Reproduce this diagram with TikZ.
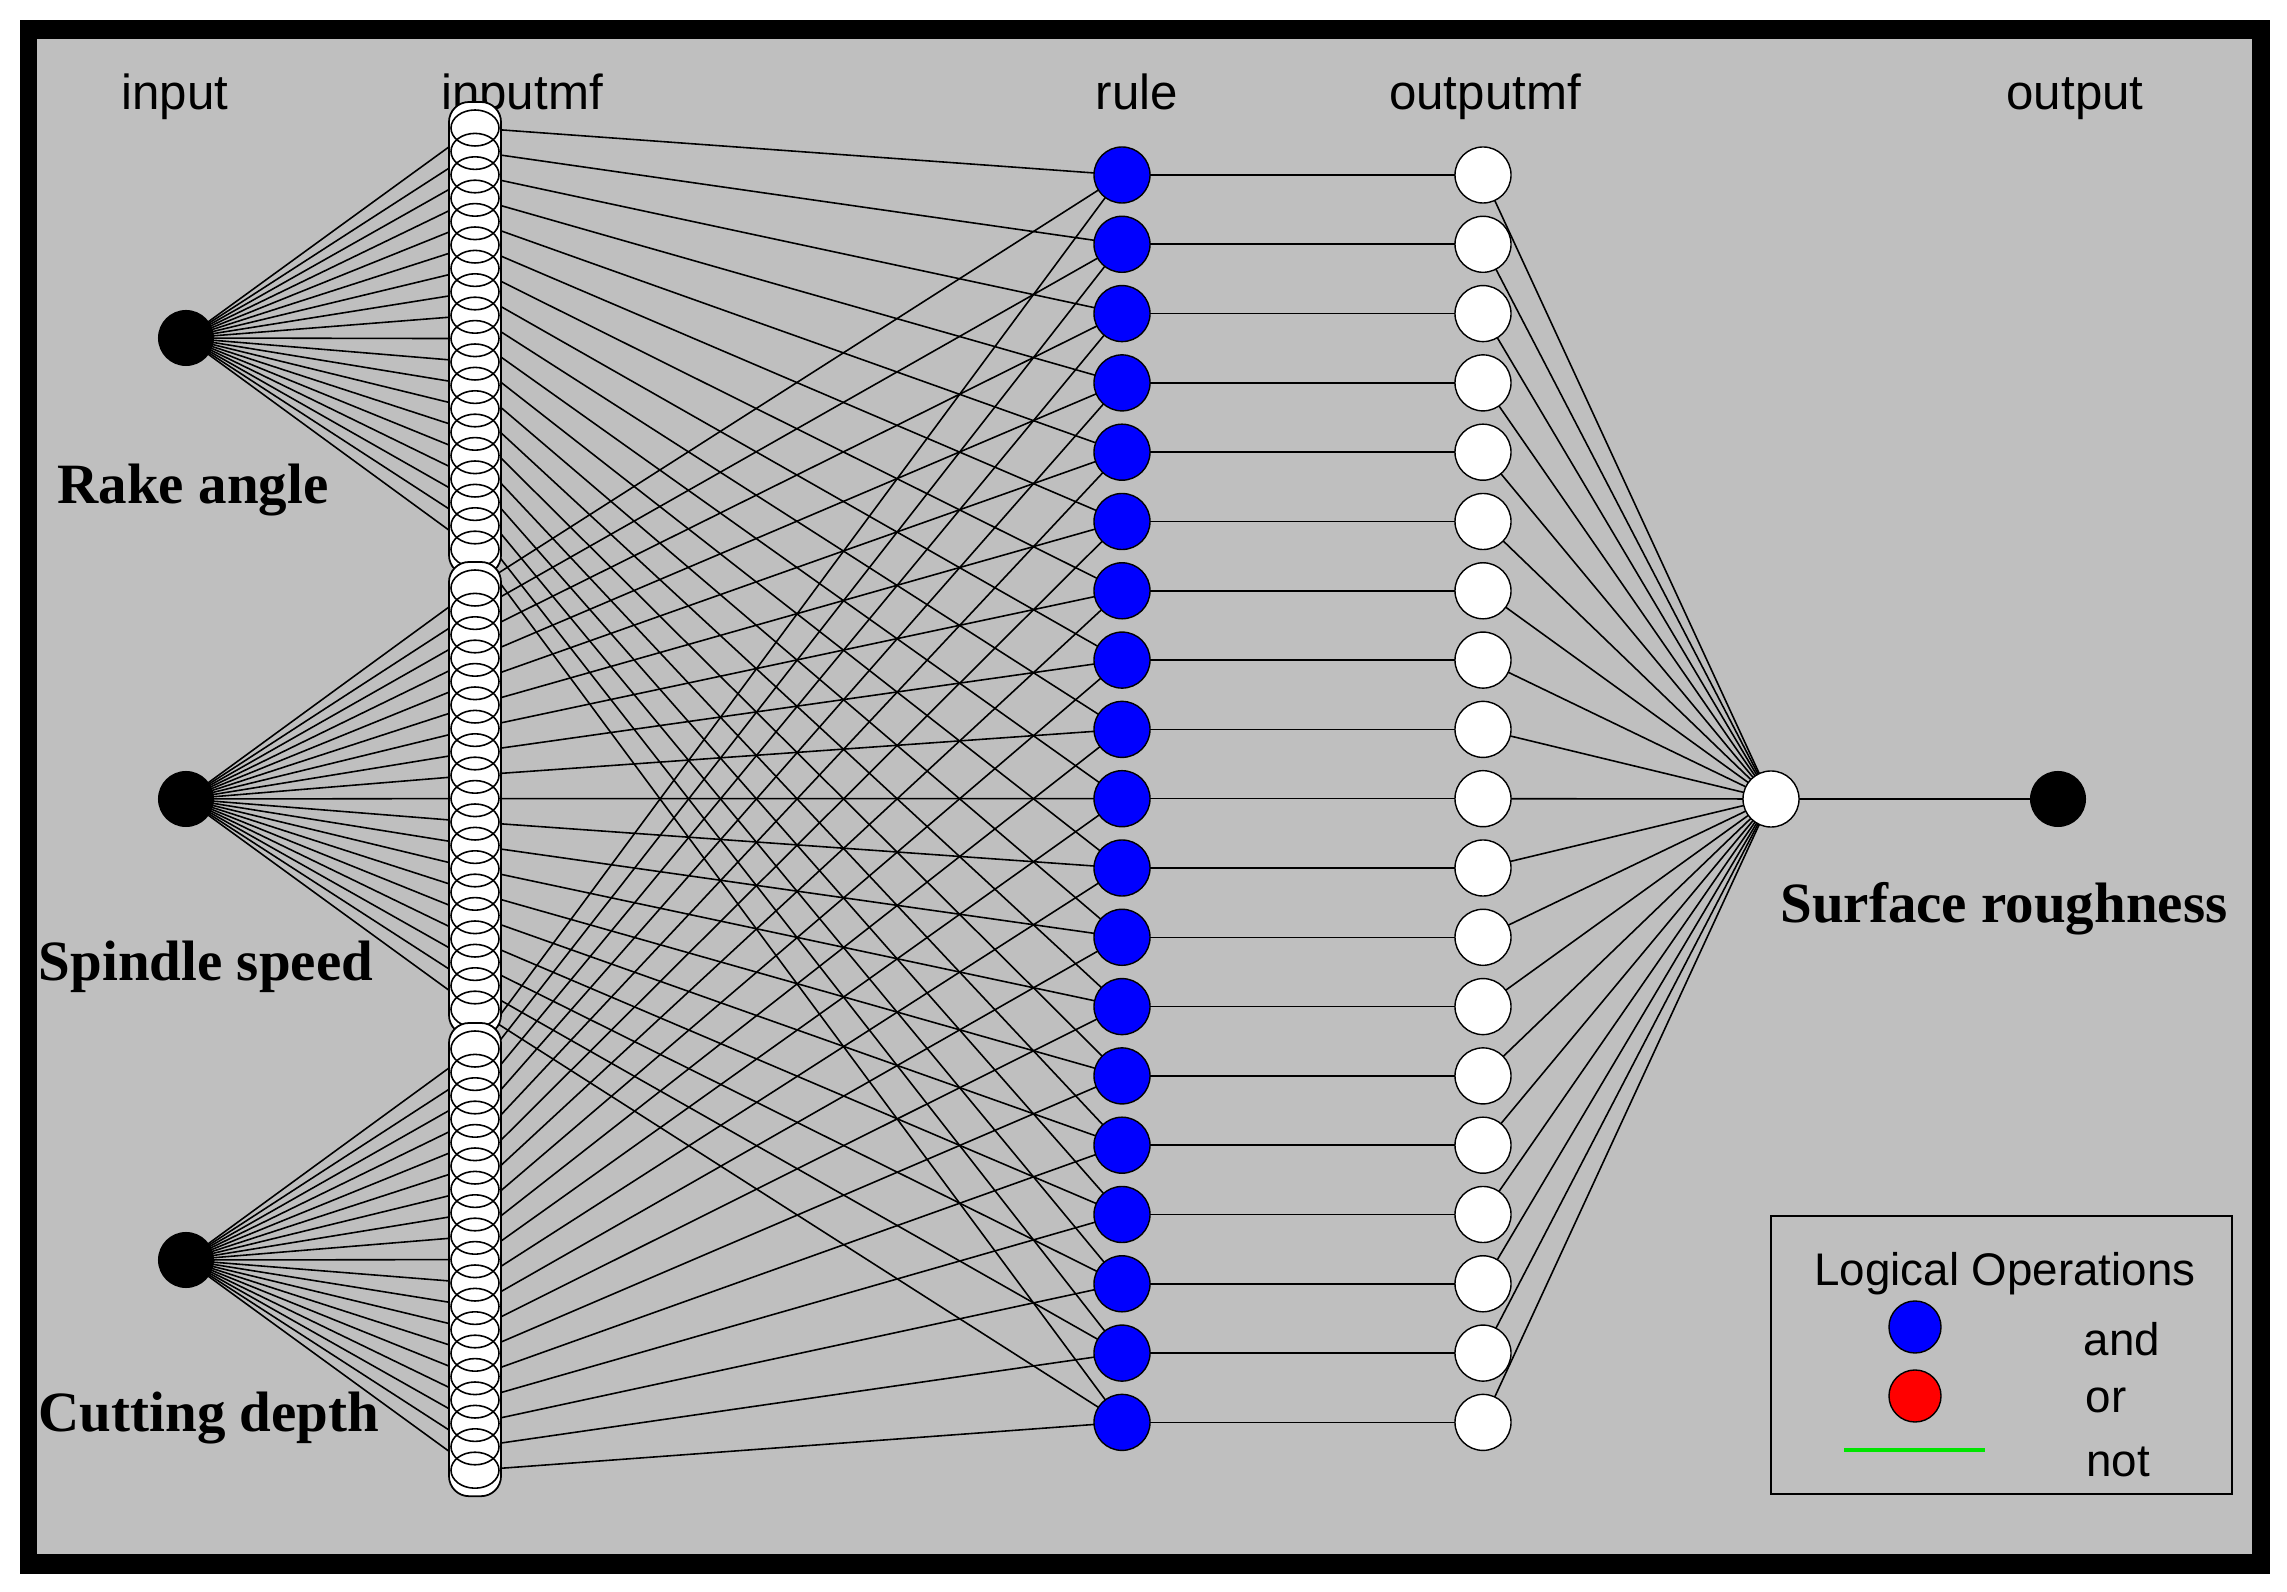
\documentclass[tikz,border=0pt]{standalone}
\usepackage{fontspec}
\usetikzlibrary{calc}
\setmainfont{Liberation Serif}
\newfontfamily\sanslab{Liberation Sans}
\begin{document}
\begin{tikzpicture}[x=0.01cm,y=-0.01cm,
  lab/.style={font=\sanslab\fontsize{14}{16}\selectfont,anchor=base},
  blab/.style={font=\bfseries\fontsize{16.2}{18}\selectfont},
  wire/.style={line width=0.45pt,black},
  omf/.style={circle,draw=black,fill=white,minimum size=0.56cm,inner sep=0pt,line width=0.4pt},
  inn/.style={circle,fill=black,minimum size=0.56cm,inner sep=0pt}]
\useasboundingbox (0,0) rectangle (2287,1592);
\fill[white] (0,0) rectangle (2287,1592);
\fill[black] (20,20) rectangle (2270,1574);
\fill[black!25] (37,39) rectangle (2252,1554);
% labels
\node[lab] (tin) at (175,110) {input};
\node[lab] (tmf) at (522,110) {inputmf};
\node[lab] (trl) at (1137,110) {rule};
\node[lab] (tom) at (1485,110) {outputmf};
\node[lab] (tou) at (2075,110) {output};
\node[blab] (l1) at (193,490) {Rake angle};
\node[blab] (l2) at (206,967) {Spindle speed};
\node[blab] (l3) at (209,1418) {Cutting depth};
\node[blab] (l4) at (2004,909) {Surface roughness};
% coordinates
\foreach \k in {1,...,19}{
  \coordinate (r\k) at (1122,{175+(\k-1)*69.3});
  \coordinate (o\k) at (1483,{175+(\k-1)*69.3});
}
\foreach \g/\top/\iy in {1/128/338,2/588/799,3/1049/1260}{
  \coordinate (in\g) at (186,\iy);
  \foreach \k in {1,...,19}{
    \coordinate (m\g-\k) at (475,{\top+(\k-1)*23.4});
  }
}
\coordinate (agg) at (1771,799);
\coordinate (out) at (2058,799);
% wires
\foreach \g in {1,2,3}{
  \foreach \k in {1,...,19}{
    \draw[wire] (in\g) -- (m\g-\k);
    \draw[wire] (m\g-\k) -- (r\k);
  }
}
\foreach \k in {1,...,19}{
  \draw[wire] (r\k) -- (o\k);
  \draw[wire] (o\k) -- (agg);
}
\draw[wire] (agg) -- (out);
% inputmf columns
\foreach \g in {1,2,3}{
  \draw[fill=white,line width=0.5pt,rounded corners=0.2cm] ($(m\g-1)+(-26,-26)$) rectangle ($(m\g-19)+(26,26)$);
  \foreach \k in {1,...,19}{
    \fill[white] (m\g-\k) ellipse (24 and 18);
  }
  \foreach \k in {1,...,19}{
    \draw[line width=0.45pt] (m\g-\k) ellipse (24 and 18);
  }
}
% nodes
\foreach \k in {1,...,19}{
  \node[circle,draw=black,fill=blue,minimum size=0.56cm,inner sep=0pt] (R\k) at (r\k) {};
  \node[omf] (O\k) at (o\k) {};
}
\foreach \g in {1,2,3}{ \node[inn] (I\g) at (in\g) {}; }
\node[omf] (A) at (agg) {};
\node[inn] (Out) at (out) {};
% legend
\draw[fill=black!25,line width=0.5pt] (1771,1216) rectangle (2232,1494);
\node[font=\sanslab\fontsize{13}{15}\selectfont] (lg) at (2005,1274) {Logical Operations};
\node[circle,draw=black,fill=blue,minimum size=0.52cm,inner sep=0pt] (lb) at (1915,1327) {};
\node[circle,draw=black,fill=red,minimum size=0.52cm,inner sep=0pt] (lr) at (1915,1396) {};
\coordinate (g1) at (1844,1450); \coordinate (g2) at (1985,1450);
\draw[green!90!black,line width=1.2pt] (g1) -- (g2);
\node[font=\sanslab\fontsize{13}{15}\selectfont] (a1) at (2122,1339) {and};
\node[font=\sanslab\fontsize{13}{15}\selectfont] (a2) at (2106,1400) {or};
\node[font=\sanslab\fontsize{13}{15}\selectfont] (a3) at (2118,1462) {not};
\end{tikzpicture}
\end{document}
